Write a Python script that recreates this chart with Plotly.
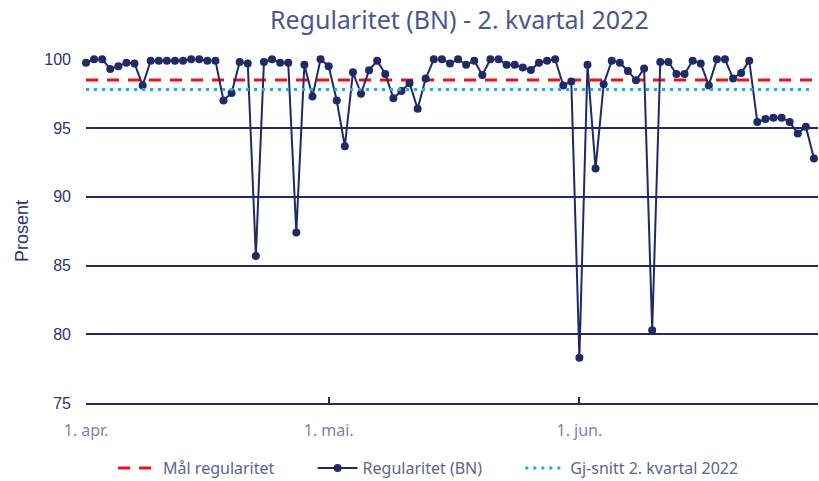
import pandas as pd
import plotly.graph_objects as go

dates = pd.date_range("2022-04-01", "2022-06-30", freq="D")

regularitet = [
    99.75, 100.0, 100.0, 99.3, 99.5, 99.75, 99.7, 98.1, 99.9, 99.9,
    99.9, 99.9, 99.9, 100.0, 100.0, 99.9, 99.9, 97.0, 97.55, 99.8,
    99.7, 85.7, 99.8, 100.0, 99.75, 99.75, 87.4, 99.6, 97.3, 100.0,
    99.5, 97.0, 93.67, 99.05, 97.5, 99.2, 99.9, 98.93, 97.17, 97.7,
    98.26, 96.4, 98.6, 100.0, 100.0, 99.7, 100.0, 99.6, 99.9, 98.86,
    100.0, 100.0, 99.6, 99.6, 99.4, 99.22, 99.75, 99.9, 100.0, 98.1,
    98.38, 78.3, 99.6, 92.05, 98.19, 99.9, 99.75, 99.15, 98.47, 99.32,
    80.3, 99.8, 99.8, 98.93, 98.93, 99.9, 99.7, 98.1, 100.0, 100.0,
    98.6, 99.0, 99.9, 95.43, 95.65, 95.75, 95.75, 95.43, 94.6, 95.1,
    92.78,
]
maal = 98.5
snitt = 97.8

tick_dates = ["2022-04-01", "2022-05-01", "2022-06-01"]
tick_text = ["1. apr.", "1. mai.", "1. jun."]
y_ticks = [75, 80, 85, 90, 95, 100]

navy = "#1f2a66"
ui_font = "Noto Sans"
pad = "\u00a0"

fig = go.Figure()
fig.add_trace(go.Scatter(
    x=dates, y=[maal] * len(dates), mode="lines", name="Mål regularitet" + pad * 8,
    line=dict(color="#e8141c", width=3, dash="12px,9px"),
))
fig.add_trace(go.Scatter(
    x=dates, y=regularitet, mode="lines+markers", name="Regularitet (BN)" + pad * 8,
    line=dict(color=navy, width=2), marker=dict(color=navy, size=8),
    cliponaxis=False,
))
fig.add_trace(go.Scatter(
    x=dates, y=[snitt] * len(dates), mode="lines", name="Gj-snitt 2. kvartal 2022",
    line=dict(color="#1aaee6", width=3, dash="3px,5px"),
))

fig.update_layout(
    width=819, height=481,
    margin=dict(l=86, r=1, t=59, b=78, autoexpand=False),
    paper_bgcolor="white", plot_bgcolor="white",
    title=dict(text="Regularitet (BN) - 2. kvartal 2022", x=0.51, xref="paper",
               xanchor="center", y=0.958, yanchor="middle",
               font=dict(family=ui_font, size=25, color="#4a5890")),
    showlegend=True,
    legend=dict(orientation="h", x=0.037, xanchor="left", y=0.027, yanchor="middle",
                xref="paper", yref="container",
                font=dict(family=ui_font, size=16, color="#5a6690"),
                itemwidth=40, tracegroupgap=0),
    xaxis=dict(
        range=["2022-04-01", "2022-06-30 12:00"],
        tickvals=tick_dates, ticktext=tick_text,
        ticks="inside", ticklen=6, tickwidth=2, tickcolor=navy,
        showline=True, linecolor=navy, linewidth=2,
        showgrid=False, zeroline=False, automargin=False,
        ticklabelstandoff=12,
        tickfont=dict(family=ui_font, size=16, color="#7a85aa"),
    ),
    yaxis=dict(
        range=[75, 100.02], tickvals=y_ticks,
        showgrid=True, gridcolor=navy, gridwidth=1.5,
        zeroline=False, showline=False, ticks="", automargin=False,
        ticklabelstandoff=14,
        tickfont=dict(family="Liberation Sans", size=16, color="#2b3670"),
        title=dict(text="Prosent", standoff=10,
                   font=dict(family="Liberation Sans", size=18, color="#2b3670")),
    ),
)

fig.write_html("out.html", config={"displayModeBar": False},
               post_script="document.body.style.margin='0';")
